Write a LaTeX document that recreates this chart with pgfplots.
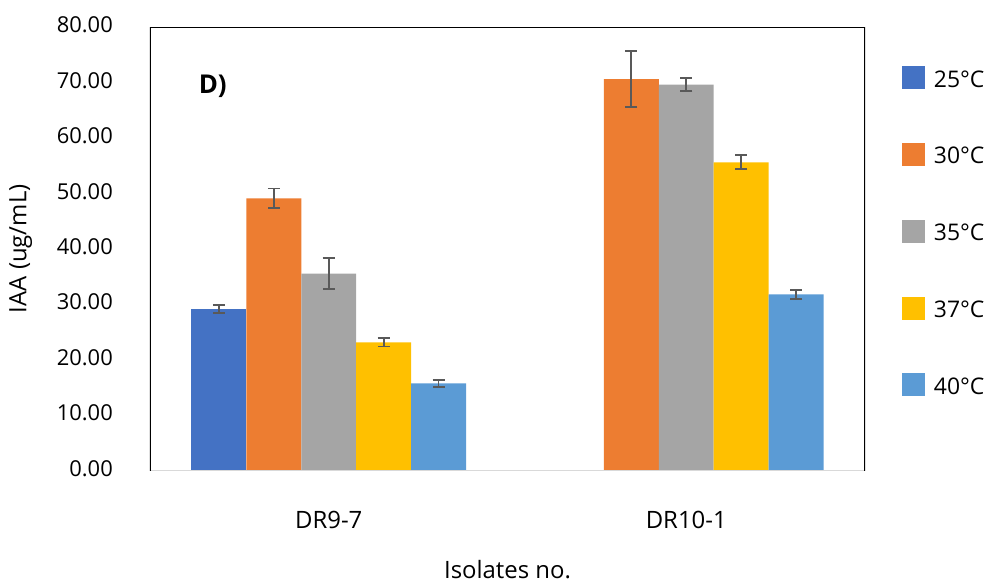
\documentclass[border=0pt]{standalone}
\usepackage{fontspec}
\setmainfont{Open Sans}
\usepackage{pgfplots}
\pgfplotsset{compat=1.18}

\definecolor{c25}{HTML}{4472C4}
\definecolor{c30}{HTML}{ED7D31}
\definecolor{c35}{HTML}{A5A5A5}
\definecolor{c37}{HTML}{FFC000}
\definecolor{c40}{HTML}{5B9BD5}
\definecolor{errgray}{HTML}{595959}
\definecolor{axisgray}{HTML}{D9D9D9}

\begin{document}
\begin{tikzpicture}
\useasboundingbox (-150bp,-112.5bp) rectangle (837bp,470.5bp);
\begin{axis}[
  at={(0,0)}, anchor=south west,
  scale only axis, width=715bp, height=443.5bp,
  xmin=-0.5, xmax=1.5, ymin=0, ymax=80,
  ybar=0pt, bar width=0.15363,
  axis line style={draw=none},
  xtick={0,1}, xticklabels={DR9-7,DR10-1},
  major x tick style={draw=none},
  extra x ticks={-0.5,0.5,1.5}, extra x tick labels={},
  extra x tick style={tick align=outside, major tick length=11bp,
    major tick style={draw=axisgray, line width=1.5bp}},
  ytick={0,10,...,80},
  major y tick style={draw=none},
  /pgf/number format/assume math mode=true,
  /pgf/number format/fixed,
  /pgf/number format/fixed zerofill,
  /pgf/number format/precision=2,
  yticklabel style={inner sep=0pt, xshift=-37bp, yshift=2bp,
    font=\fontsize{22}{26}\selectfont},
  xticklabel style={inner sep=0pt, anchor=north, yshift=-36.5bp,
    font=\fontsize{24}{28}\selectfont},
  ylabel={IAA (ug/mL)},
  xlabel={Isolates no.},
  label style={font=\fontsize{24}{28}\selectfont},
  ylabel style={at={(axis description cs:-0.181,0.5)}, anchor=center},
  xlabel style={at={(axis description cs:0.5,-0.2225)}, anchor=center},
  legend style={draw=none, fill=none, inner sep=0pt, outer sep=0pt,
    at={(1.0517,0.9114)}, anchor=north west,
    font=\fontsize{23}{27}\selectfont,
    nodes={inner sep=0pt, text height=18bp, text depth=7.5bp},
    row sep=48.5bp,
    /tikz/every odd column/.append style={column sep=9bp}},
  legend cell align=left,
  legend image code/.code={\fill[#1] (0bp,-7.5bp) rectangle (23bp,15.5bp);},
  error bars/y dir=both, error bars/y explicit,
  error bars/error bar style={draw=errgray, line width=1.8bp},
  error bars/error mark options={rotate=90, mark size=6bp, line width=1.8bp, draw=errgray},
]
% 25 C (no value for DR10-1)
\addplot[fill=c25, draw=none] coordinates {(0,29.13) +- (0,0.72)};
% 30 C
\addplot[fill=c30, draw=none] coordinates {(0,49.10) +- (0,1.78) (1,70.62) +- (0,5.11)};
% 35 C
\addplot[fill=c35, draw=none] coordinates {(0,35.50) +- (0,2.82) (1,69.59) +- (0,1.15)};
% 37 C
\addplot[fill=c37, draw=none] coordinates {(0,23.12) +- (0,0.76) (1,55.59) +- (0,1.26)};
% 40 C
\addplot[fill=c40, draw=none] coordinates {(0,15.73) +- (0,0.60) (1,31.78) +- (0,0.81)};
\legend{25°C,30°C,35°C,37°C,40°C}

% plot-area frame: grey baseline, black border on the other sides
\draw[axisgray, line width=2bp] (rel axis cs:0,0) -- (rel axis cs:1,0);
\draw[black, line width=2bp] (rel axis cs:0,0) -- (rel axis cs:0,1) -- (rel axis cs:1,1) -- (rel axis cs:1,0);

\node[anchor=west, inner sep=0pt, font=\fontsize{26}{30}\selectfont\bfseries]
  at (axis cs:-0.364,69.3) {D)};
\end{axis}
\end{tikzpicture}
\end{document}
